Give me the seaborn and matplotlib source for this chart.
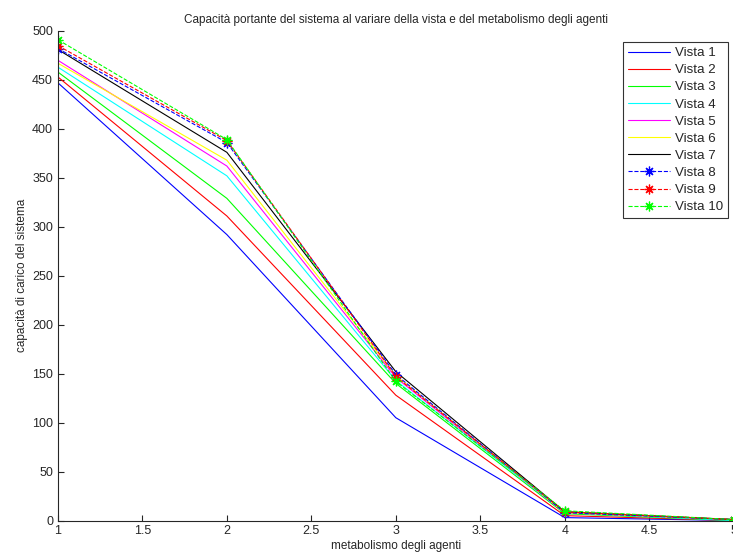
import matplotlib
matplotlib.use("Agg")
import matplotlib.pyplot as plt
import seaborn as sns
import pandas as pd

metabolismo = [1, 2, 3, 4, 5]
vista_1 = [447, 292, 105, 3, 0]
vista_2 = [453, 311, 128, 5, 0]
vista_3 = [458, 329, 140, 7, 0]
vista_4 = [463, 352, 143, 8, 0]
vista_5 = [470, 362, 146, 8, 1]
vista_6 = [467, 368, 148, 8, 1]
vista_7 = [481, 376, 152, 9, 1]
vista_8 = [482, 386, 149, 8, 1]
vista_9 = [485, 388, 147, 9, 1]
vista_10 = [491, 389, 142, 10, 1]

series = [vista_1, vista_2, vista_3, vista_4, vista_5,
          vista_6, vista_7, vista_8, vista_9, vista_10]
labels = [f"Vista {i}" for i in range(1, 11)]
colors = ["#0000ff", "#ff0000", "#00ff00", "#00ffff", "#ff00ff",
          "#ffff00", "#000000", "#0000ff", "#ff0000", "#00ff00"]

sns.set_style("ticks")
plt.rcParams['font.family'] = ['Liberation Sans', 'DejaVu Sans']
plt.rcParams['xtick.direction'] = 'in'
plt.rcParams['ytick.direction'] = 'in'

fig = plt.figure(figsize=(7.33, 5.52), dpi=100)
ax = fig.add_axes([0.079, 0.057, 0.922, 0.887])

for i, (vals, lab, col) in enumerate(zip(series, labels, colors)):
    df = pd.DataFrame({"x": metabolismo, "y": vals})
    if i >= 7:
        sns.lineplot(data=df, x="x", y="y", ax=ax, color=col, lw=0.8,
                     linestyle="--", marker=(8, 2, 0), markersize=7,
                     markeredgewidth=0.9, markeredgecolor=col, label=lab)
    else:
        sns.lineplot(data=df, x="x", y="y", ax=ax, color=col, lw=0.8,
                     label=lab)

ax.set_xlim(1, 5)
ax.set_ylim(0, 500)
ax.set_xticks([1, 1.5, 2, 2.5, 3, 3.5, 4, 4.5, 5])
ax.set_xticklabels(["1", "1.5", "2", "2.5", "3", "3.5", "4", "4.5", "5"])
ax.set_yticks(range(0, 501, 50))
ax.tick_params(labelsize=9, length=4, width=0.8)
ax.spines['top'].set_visible(False)
ax.spines['right'].set_visible(False)
ax.set_xlabel("metabolismo degli agenti", fontsize=8.5, labelpad=2)
ax.set_ylabel("capacità di carico del sistema", fontsize=8.5, labelpad=3)
ax.set_title("Capacità portante del sistema al variare della vista e del metabolismo degli agenti",
             fontsize=8.5, pad=6)

leg = ax.legend(loc="upper right", bbox_to_anchor=(0.991, 0.977), fontsize=9.6,
                frameon=True, fancybox=False, edgecolor="black",
                handlelength=3.2, handletextpad=0.35, labelspacing=0.36,
                borderpad=0.35, borderaxespad=0)
leg.get_frame().set_linewidth(0.8)

fig.savefig("out.png", dpi=100)
